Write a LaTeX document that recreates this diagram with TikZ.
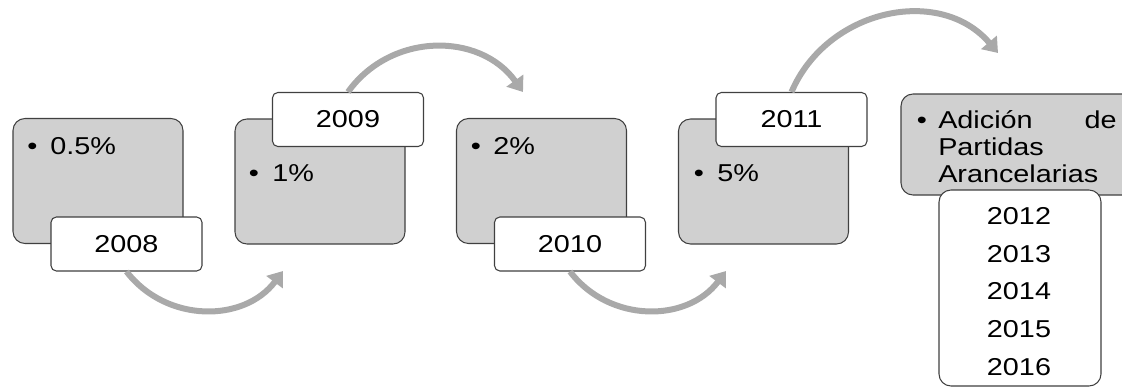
\documentclass[tikz,border=0pt]{standalone}
\usepackage{fontspec}
\setmainfont{Liberation Sans}[FakeStretch=1.18]
\usetikzlibrary{arrows.meta}
\definecolor{boxgray}{HTML}{D0D0D0}
\definecolor{arrowgray}{HTML}{A9A9A9}
\definecolor{edgegray}{HTML}{404040}
\tikzset{
  graybox/.style={draw=edgegray, fill=boxgray, line width=0.8pt, rounded corners=9pt,
    minimum width=127.5pt, minimum height=93.75pt, inner sep=0pt},
  yearbox/.style={draw=edgegray, fill=white, line width=0.8pt, rounded corners=4pt,
    minimum width=113.25pt, minimum height=40.5pt, inner sep=0pt,
    font=\fontsize{18.3pt}{22pt}\selectfont},
  txt/.style={inner sep=0pt, font=\fontsize{18.3pt}{22pt}\selectfont, anchor=base west},
  bul/.style={inner sep=0pt, font=\fontsize{18.3pt}{22pt}\selectfont, anchor=base},
  yr/.style={inner sep=0pt, font=\fontsize{18.3pt}{22pt}\selectfont, anchor=base},
  flow/.style={draw=arrowgray, line width=4.5pt, -{Triangle[width=15pt,length=10.5pt]}},
}
\begin{document}
\begin{tikzpicture}[x=0.75pt,y=-0.75pt]
\useasboundingbox (0,0) rectangle (1122,389);
\clip (0,0) rectangle (1122,389);
% gray boxes
\node[graybox] (b1) at (98,181) {};
\node[graybox] (b2) at (320,181.5) {};
\node[graybox] (b3) at (541.5,181) {};
\node[graybox] (b4) at (763.5,181.5) {};
\node[graybox, minimum width=175.5pt, minimum height=75.75pt] (b5) at (1018,144.5) {};
% texts in gray boxes
\node[bul] (d1) at (32.5,154) {•};
\node[txt] (t1) at (50,154) {0.5\%};
\node[bul] (d2) at (254,181) {•};
\node[txt] (t2) at (272,181) {1\%};
\node[bul] (d3) at (476,154) {•};
\node[txt] (t3) at (493,154) {2\%};
\node[bul] (d4) at (699,181) {•};
\node[txt] (t4) at (717,181) {5\%};
\node[bul] (d5) at (922,128) {•};
\node[txt] (t5a) at (938,128) {Adición};
\node[txt, anchor=base east] (t5b) at (1117,128) {de};
\node[txt] (t5c) at (938,155) {Partidas};
\node[txt] (t5d) at (938,182) {Arancelarias};
% year labels
\node[yearbox] (l2008) at (126.5,244) {2008};
\node[yearbox] (l2009) at (348,119.5) {2009};
\node[yearbox] (l2010) at (570,244) {2010};
\node[yearbox] (l2011) at (791.5,119.5) {2011};
% list box
\node[draw=edgegray, fill=white, line width=0.8pt, rounded corners=9pt,
  minimum width=121.5pt, minimum height=147pt, inner sep=0pt] (list) at (1020,288) {};
\node[yr] (y2012) at (1019,224) {2012};
\node[yr] (y2013) at (1019,262) {2013};
\node[yr] (y2014) at (1019,299) {2014};
\node[yr] (y2015) at (1019,337) {2015};
\node[yr] (y2016) at (1019,375) {2016};
% arrow end points
\coordinate (e1) at (283,271);
\coordinate (e2) at (523,92);
\coordinate (e3) at (726,271);
\coordinate (e4) at (998,53);
% arrows
\draw[flow] (l2008.south) .. controls (166,323) and (244,323) .. (e1);
\draw[flow] (l2009.north) .. controls (391,32) and (480,32) .. (e2);
\draw[flow] (l2010.south) .. controls (609,323) and (687,323) .. (e3);
\draw[flow] (l2011.north) .. controls (827,9) and (940,-15) .. (e4);
\end{tikzpicture}
\end{document}
